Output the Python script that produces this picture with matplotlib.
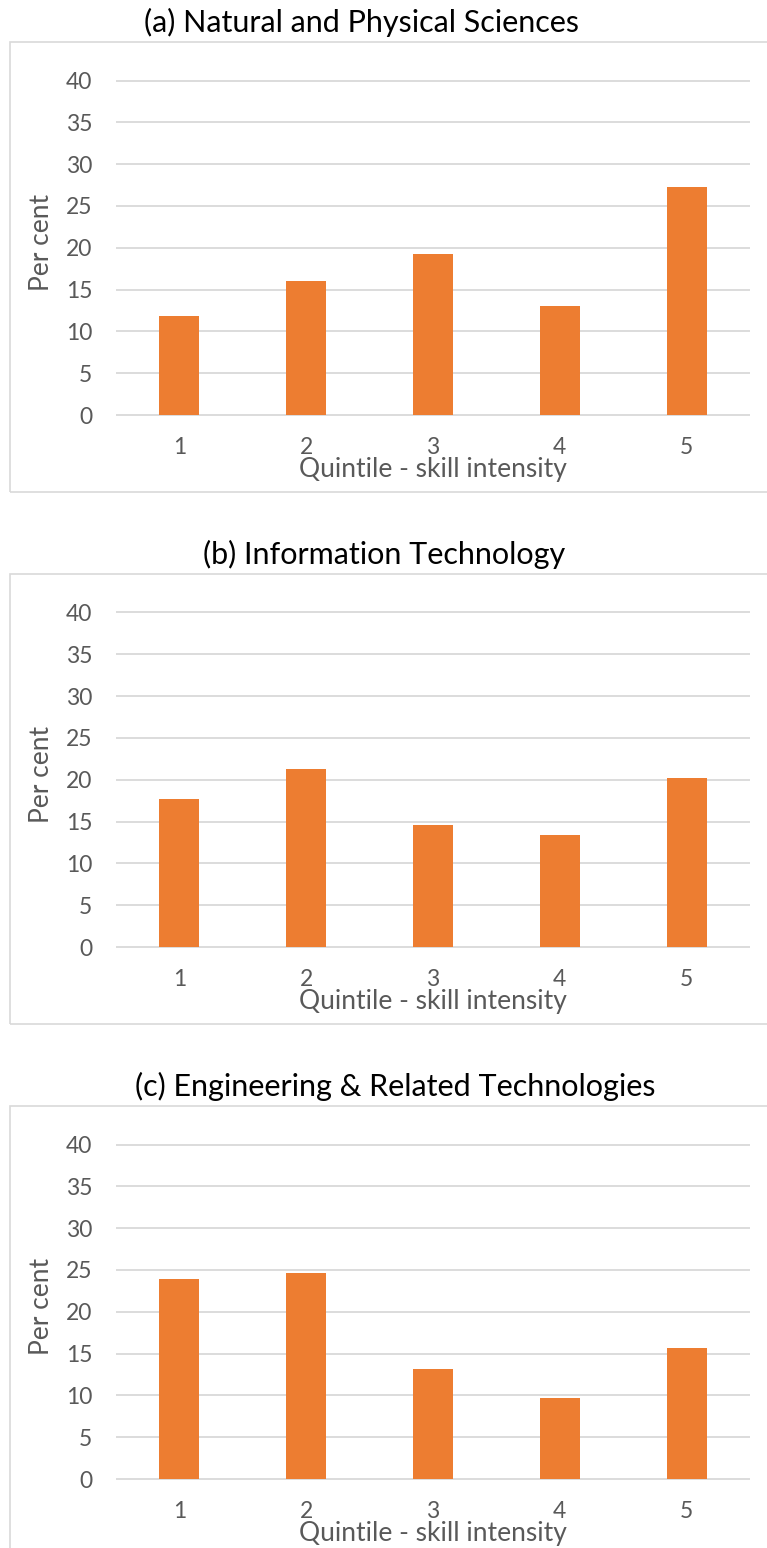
import matplotlib
matplotlib.use("Agg")
import matplotlib.pyplot as plt
from matplotlib.patches import Rectangle

plt.rcParams['font.family'] = ['Lato', 'DejaVu Sans']

# data
quintiles = [1, 2, 3, 4, 5]
titles = ["(a) Natural and Physical Sciences",
          "(b) Information Technology",
          "(c) Engineering & Related Technologies"]
natural_sciences = [11.8, 16.0, 19.2, 13.0, 27.3]
info_tech = [17.7, 21.3, 14.6, 13.4, 20.2]
engineering = [23.9, 24.6, 13.1, 9.7, 15.7]
panels = [natural_sciences, info_tech, engineering]
y_ticks = [0, 5, 10, 15, 20, 25, 30, 35, 40]

W, H = 767, 1548
fig = plt.figure(figsize=(W / 100, H / 100), dpi=100)
fig.patch.set_facecolor('white')

bar_color = '#ED7D31'
grid_color = '#D9D9D9'
text_grey = '#595959'

title_x = [362, 384, 395]
step = 532          # vertical distance between panels, px
ppu = 334.5 / 40    # px per unit on the y axis
ext = 3             # px of padding so edge gridlines are not clipped

for i, values in enumerate(panels):
    off = step * i
    zero_px = 415 + off
    top_px = zero_px - 40 * ppu
    ax_h = zero_px - top_px + 2 * ext

    # chart border (right edge runs off the picture)
    box_top = 42 + off
    box_bot = 492 + off if i < 2 else H + 20
    fig.patches.append(Rectangle((10 / W, 1 - box_bot / H), 800 / W, (box_bot - box_top) / H,
                                 transform=fig.transFigure, fill=False,
                                 edgecolor=grid_color, lw=1.2))

    ax = fig.add_axes([116 / W, 1 - (zero_px + ext) / H, 634 / W, ax_h / H])
    ax.bar(quintiles, values, width=0.315, color=bar_color, zorder=2)
    ax.set_xlim(0.5, 5.5)
    ax.set_ylim(-ext / ppu, 40 + ext / ppu)
    ax.set_yticks(y_ticks)
    ax.set_xticks(quintiles)
    ax.yaxis.grid(True, color=grid_color, lw=1.3)
    ax.set_axisbelow(True)
    for s in ax.spines.values():
        s.set_visible(False)
    ax.tick_params(axis='both', length=0, labelsize=16.5, labelcolor=text_grey)
    ax.tick_params(axis='y', pad=17)
    ax.tick_params(axis='x', pad=14)

    ax.set_ylabel("Per cent", fontsize=19, color=text_grey)
    ax.yaxis.set_label_coords(-75 / 634, (zero_px + ext - (242 + off)) / ax_h)
    ax.yaxis.label.set_va('center')
    ax.set_xlabel("Quintile - skill intensity", fontsize=19, color=text_grey)
    ax.xaxis.set_label_coords(0.5, -(470 - 415 - ext) / ax_h)
    ax.xaxis.label.set_va('center')

    fig.text(title_x[i] / W, 1 - (22 + off) / H, titles[i], ha='center', va='center',
             fontsize=22, color='#000000')

fig.savefig("out.png", dpi=100)
